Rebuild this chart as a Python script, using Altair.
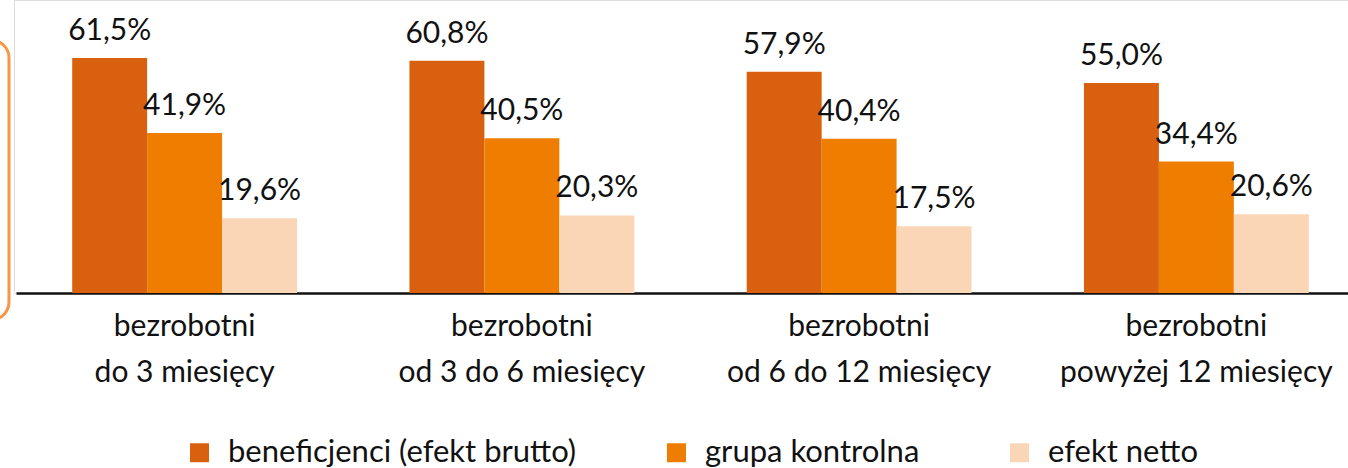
import altair as alt
import pandas as pd

groups = ["bezrobotni|do 3 miesięcy", "bezrobotni|od 3 do 6 miesięcy",
          "bezrobotni|od 6 do 12 miesięcy", "bezrobotni|powyżej 12 miesięcy"]
series = ["beneficjenci (efekt brutto)", "grupa kontrolna", "efekt netto"]
brutto = [61.5, 60.8, 57.9, 55.0]
kontrolna = [41.9, 40.5, 40.4, 34.4]
netto = [19.6, 20.3, 17.5, 20.6]
colors = ["#D9600E", "#EE7D00", "#FAD6B6"]

rows = []
for s, vals in zip(series, [brutto, kontrolna, netto]):
    for g, v in zip(groups, vals):
        rows.append({"grupa": g, "seria": s, "wartosc": v})
df = pd.DataFrame(rows)

FONT = "Lato"
W, H = 1334, 293

x = alt.X("grupa:N", sort=groups,
          scale=alt.Scale(range=[2, 1351], paddingInner=0, paddingOuter=0),
          axis=alt.Axis(title=None, labelExpr="split(datum.label, '|')",
                        labelFont=FONT, labelFontSize=30, labelColor="#111111",
                        labelLineHeight=46, labelPadding=18, labelAngle=0,
                        labelBaseline="top", labelLimit=500,
                        ticks=False, domainColor="#111111", domainWidth=2.5,
                        grid=False))
xo = alt.XOffset("seria:N", sort=series,
                 scale=alt.Scale(paddingOuter=0.75, paddingInner=0))
y = alt.Y("wartosc:Q", scale=alt.Scale(domain=[0, 76.7], nice=False), axis=None)

base = alt.Chart(df).encode(x=x, xOffset=xo, y=y)

bars = base.mark_bar(stroke=None).encode(
    color=alt.Color("seria:N", sort=series,
                    scale=alt.Scale(domain=series, range=colors),
                    legend=alt.Legend(title=None, orient="none", direction="horizontal",
                                      legendX=170, legendY=437,
                                      symbolType="square", symbolSize=360,
                                      symbolStrokeWidth=0,
                                      labelFont=FONT, labelFontSize=31,
                                      labelColor="#111111", labelOffset=13,
                                      columnPadding=84, labelLimit=600))
)

labels = base.mark_text(font=FONT, fontSize=30, dy=-18, baseline="alphabetic",
                        color="#111111").transform_calculate(
    lab="replace(format(datum.wartosc, '.1f'), '.', ',') + '%'"
).encode(text="lab:N")

frame = alt.Chart(pd.DataFrame({"k": [0]})).mark_rect(
    fill=None, stroke="#F79646", strokeWidth=3, cornerRadius=18
).encode(x=alt.value(-60), x2=alt.value(-5), y=alt.value(40), y2=alt.value(320))

chart = alt.layer(bars, labels, frame).properties(
    width=W, height=H,
    autosize=alt.AutoSizeParams(type="none"),
    padding={"left": 14, "top": 0, "right": 0, "bottom": 175},
).configure_view(stroke=None).configure(background="white")

chart.save("out.html", embed_options={"renderer": "svg", "actions": False})
